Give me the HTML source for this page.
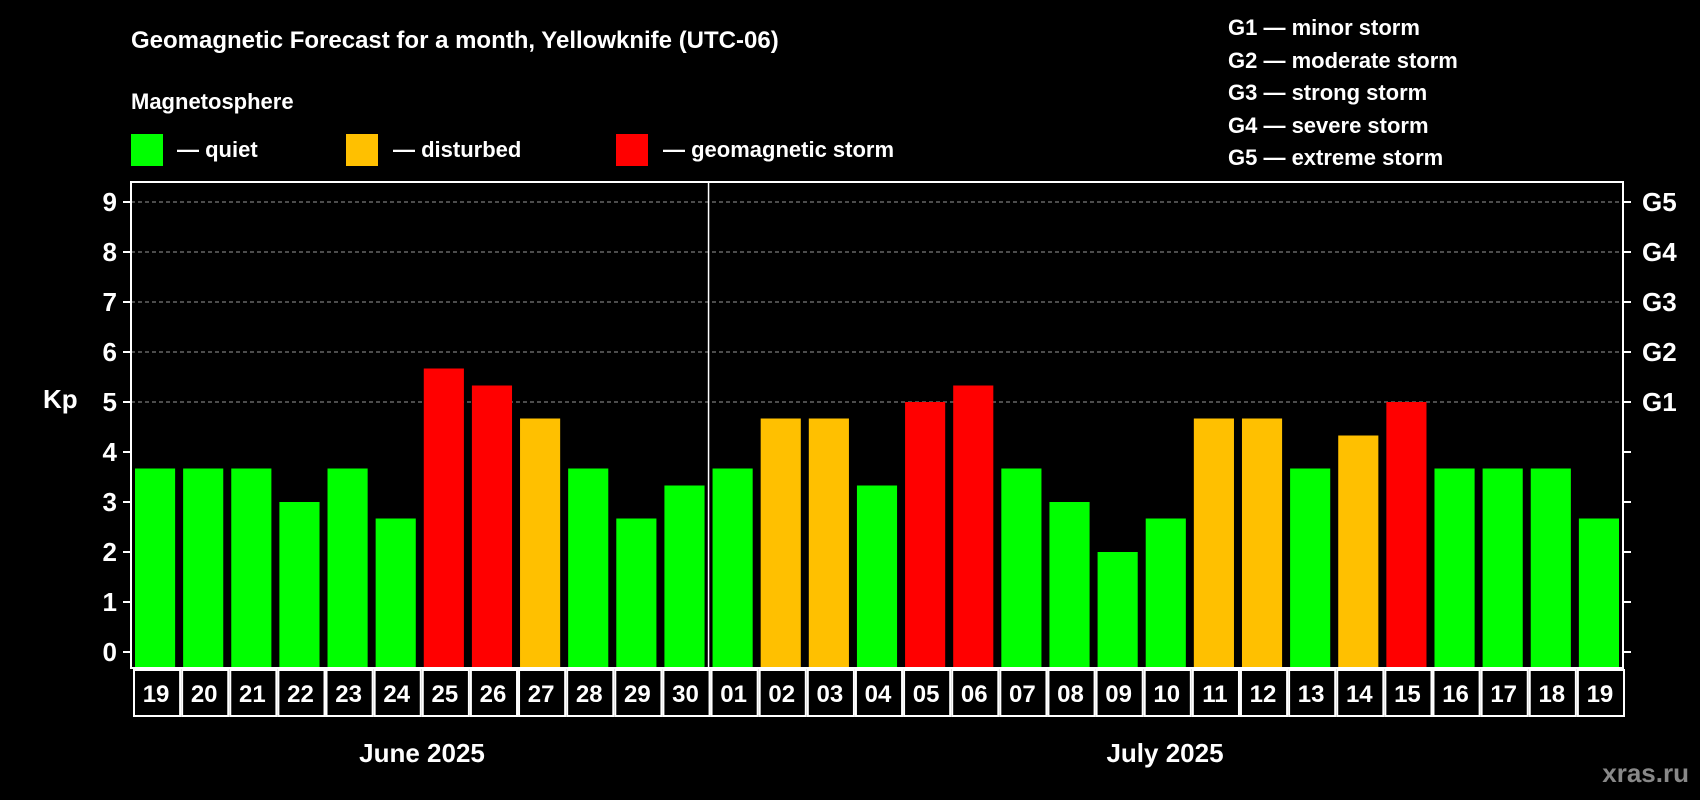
<!DOCTYPE html>
<html><head><meta charset="utf-8"><style>
body{margin:0;background:#000;}
svg{display:block;font-family:"Liberation Sans",Arial,sans-serif;font-weight:bold;}
</style></head><body>
<svg id="c" width="1700" height="800" viewBox="0 0 1700 800">
<rect width="1700" height="800" fill="#000"/>
<text x="131" y="48" fill="#fff" font-size="24">Geomagnetic Forecast for a month, Yellowknife (UTC-06)</text>
<text x="131" y="109" fill="#fff" font-size="22">Magnetosphere</text>
<rect x="131" y="134" width="32" height="32" fill="#00ff00"/>
<text x="177" y="157" fill="#fff" font-size="22">— quiet</text>
<rect x="346" y="134" width="32" height="32" fill="#ffc000"/>
<text x="393" y="157" fill="#fff" font-size="22">— disturbed</text>
<rect x="616" y="134" width="32" height="32" fill="#ff0000"/>
<text x="663" y="157" fill="#fff" font-size="22">— geomagnetic storm</text>
<g fill="#fff" font-size="22">
<text x="1228" y="35">G1 — minor storm</text>
<text x="1228" y="68">G2 — moderate storm</text>
<text x="1228" y="100">G3 — strong storm</text>
<text x="1228" y="133">G4 — severe storm</text>
<text x="1228" y="165">G5 — extreme storm</text>
</g>
<text x="43" y="408" fill="#fff" font-size="26">Kp</text>
<text x="422" y="762" fill="#fff" font-size="26" text-anchor="middle">June 2025</text>
<text x="1165" y="762" fill="#fff" font-size="26" text-anchor="middle">July 2025</text>
<text x="1689" y="782" fill="#888" font-size="26" text-anchor="end">xras.ru</text>
<g id="plot"></g>
</svg>
<script>
const days=["19","20","21","22","23","24","25","26","27","28","29","30","01","02","03","04","05","06","07","08","09","10","11","12","13","14","15","16","17","18","19"];
const kp=[3.67,3.67,3.67,3,3.67,2.67,5.67,5.33,4.67,3.67,2.67,3.33,3.67,4.67,4.67,3.33,5,5.33,3.67,3,2,2.67,4.67,4.67,3.67,4.33,5,3.67,3.67,3.67,2.67];
const yTicks=[0,1,2,3,4,5,6,7,8,9];
const gLabels=["G1","G2","G3","G4","G5"];
const NS="http://www.w3.org/2000/svg";
const L=131,R=1623,T=182,B=668,Y0=652,Y9=202;
const y=v=>Y0-(Y0-Y9)*v/9;
const slot=(R-L)/days.length;
const x=i=>L+i*slot;
const g=document.getElementById('plot');
function mk(t,a,p){const e=document.createElementNS(NS,t);for(const k in a)e.setAttribute(k,a[k]);(p||g).appendChild(e);return e;}
yTicks.forEach(v=>{
 if(v>=5){const l=mk('line',{x1:L,x2:R,y1:y(v),y2:y(v),stroke:'#999','stroke-dasharray':'4 3','stroke-width':1});
 
 }
 const t1=mk('line',{x1:L-8,x2:L,y1:y(v),y2:y(v),stroke:'#fff','stroke-width':2});
 
 
 const t2=mk('line',{x1:R,x2:R+8,y1:y(v),y2:y(v),stroke:'#fff','stroke-width':2});
 
 
 const tx=mk('text',{x:L-14,y:y(v)+9,fill:'#fff','font-size':26,'text-anchor':'end'});tx.textContent=v;
 
 
});
gLabels.forEach((s,i)=>{const t=mk('text',{x:R+19,y:y(5+i)+9,fill:'#fff','font-size':26});t.textContent=s;
 
 });
kp.forEach((v,i)=>{
 const c=v>=5?'#ff0000':(v>=4?'#ffc000':'#00ff00');
 const r=mk('rect',{x:x(i)+4,y:y(v),width:slot-8,height:B-y(v),fill:c});
 
 
 const b=mk('rect',{x:x(i)+3,y:B+2,width:slot-2,height:46,fill:'none',stroke:'#fff','stroke-width':2});
 
 
 const t=mk('text',{x:x(i)+slot/2+1,y:B+34,fill:'#fff','font-size':24,'text-anchor':'middle'});t.textContent=days[i];
 
 
});
const f=mk('rect',{x:L,y:T,width:R-L,height:B-T,fill:'none',stroke:'#fff','stroke-width':2});


const d=mk('line',{x1:x(12),x2:x(12),y1:T,y2:B,stroke:'#fff','stroke-width':1.5});


</script>
</body></html>
